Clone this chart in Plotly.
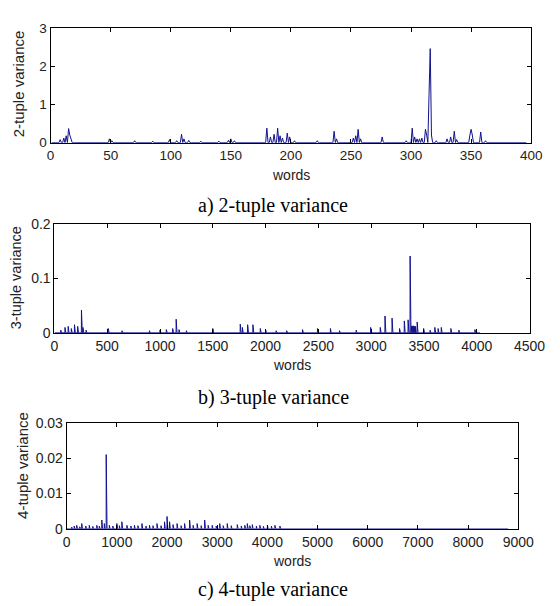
import plotly.graph_objects as go

# ---------------- data ----------------
# a) 2-tuple variance: number of words and spikes (word index, variance)
n_words_2 = 396
spikes2_x = [8, 11, 13, 15, 16, 17, 49, 51, 70, 85, 99, 105, 109, 111, 115, 125, 140, 148, 150, 153,
             180, 183, 186, 189, 191, 193, 197, 199, 203, 222, 236, 238, 252, 254, 256, 258, 276, 296,
             301, 303, 305, 307, 309, 312, 313, 315, 316, 317, 321, 330, 333, 336, 338, 349, 350,
             351, 358, 362]
spikes2_y = [0.08, 0.12, 0.18, 0.37, 0.2, 0.12, 0.1, 0.05, 0.05, 0.04, 0.08, 0.05, 0.22, 0.1, 0.06, 0.04, 0.04, 0.06, 0.1, 0.05,
             0.38, 0.15, 0.22, 0.38, 0.18, 0.12, 0.25, 0.15, 0.05, 0.05, 0.3, 0.1, 0.12, 0.18, 0.35, 0.1, 0.15, 0.05,
             0.38, 0.15, 0.1, 0.1, 0.12, 0.35, 0.2, 1.27, 2.47, 0.2, 0.05, 0.1, 0.15, 0.3, 0.08, 0.2, 0.35,
             0.2, 0.28, 0.05]

# b) 3-tuple variance
n_words_3 = 4030
spikes3_x = [60, 100, 130, 160, 190, 220, 256, 270, 300, 510, 640, 900, 1000, 1060, 1120, 1153, 1180, 1250,
             1500, 1760, 1780, 1830, 1880, 1950, 2000, 2100, 2200, 2350, 2492, 2614, 2700, 2858, 2995, 3086,
             3131, 3198, 3269, 3314, 3350, 3369, 3380, 3385, 3390, 3395, 3400, 3405, 3410, 3415, 3420, 3436,
             3497, 3558, 3603, 3634, 3664, 3755, 3831, 3983]
spikes3_y = [0.005, 0.01, 0.012, 0.008, 0.015, 0.012, 0.042, 0.01, 0.005, 0.008, 0.004, 0.004, 0.005, 0.006, 0.008, 0.025, 0.006, 0.004,
             0.008, 0.016, 0.01, 0.015, 0.015, 0.008, 0.006, 0.004, 0.004, 0.006, 0.008, 0.008, 0.004, 0.005, 0.01, 0.01,
             0.031, 0.027, 0.008, 0.022, 0.024, 0.141, 0.012, 0.013, 0.012, 0.011, 0.013, 0.012, 0.012, 0.011, 0.012, 0.02,
             0.008, 0.005, 0.01, 0.008, 0.01, 0.008, 0.005, 0.006]

# c) 4-tuple variance
n_words_4 = 8800
spikes4_x = [100, 150, 200, 260, 300, 380, 450, 520, 600, 650, 700, 750, 788, 850, 920, 1000, 1050, 1100,
             1200, 1280, 1350, 1420, 1500, 1580, 1650, 1720, 1800, 1880, 1950, 2000, 2050, 2120, 2200,
             2280, 2350, 2450, 2520, 2600, 2680, 2750, 2820, 2900, 2980, 3050, 3120, 3200, 3280, 3400,
             3480, 3550, 3600, 3650, 3700, 3780, 3850, 3920, 4000, 4080, 4150, 4250]
spikes4_y = [0.0005, 0.0008, 0.001, 0.0006, 0.0015, 0.0008, 0.001, 0.0007, 0.001, 0.0008, 0.0025, 0.0015, 0.021, 0.001, 0.0008, 0.0015, 0.0009, 0.002,
             0.001, 0.0008, 0.001, 0.0009, 0.0015, 0.0008, 0.001, 0.0009, 0.0015, 0.0009, 0.002, 0.0035, 0.002, 0.0012, 0.0015,
             0.0009, 0.0015, 0.0025, 0.001, 0.0015, 0.0009, 0.0025, 0.001, 0.001, 0.0008, 0.0015, 0.0009, 0.0015, 0.0009, 0.0012,
             0.0008, 0.001, 0.0015, 0.0009, 0.0012, 0.0008, 0.001, 0.0007, 0.001, 0.0008, 0.001, 0.0008]

x2_ticks = [0, 50, 100, 150, 200, 250, 300, 350, 400]
y2_ticks = [0, 1, 2, 3]
x3_ticks = [0, 500, 1000, 1500, 2000, 2500, 3000, 3500, 4000, 4500]
y3_ticks = [0, 0.1, 0.2]
x4_ticks = [0, 1000, 2000, 3000, 4000, 5000, 6000, 7000, 8000, 9000]
y4_ticks = [0, 0.01, 0.02, 0.03]
y4_ticktext = ["0", "0.01", "0.02", "0.03"]

captions = ["a) 2-tuple variance", "b) 3-tuple variance", "c) 4-tuple variance"]
ytitles = ["2-tuple variance", "3-tuple variance", "4-tuple variance"]
xtitle = "words"


def build(n, sx, sy):
    xs = list(range(1, n + 1))
    ys = [0.0] * n
    for a, b in zip(sx, sy):
        ys[a - 1] = b
    return xs, ys


W, H = 560, 606
LINE = "#12128c"
SANS = "Liberation Sans, Arial, sans-serif"

panels = [
    dict(data=build(n_words_2, spikes2_x, spikes2_y), left=48.3, right=546.7, top=21, bottom=138.3,
         xr=[0, 400], xt=x2_ticks, yr=[0, 3], yt=y2_ticks, ytt=None,
         fs=13.5, yfs=15, ytx=16, yty=78, cap=203),
    dict(data=build(n_words_3, spikes3_x, spikes3_y), left=52.3, right=545, top=221.7, bottom=333.7,
         xr=[0, 4500], xt=x3_ticks, yr=[0, 0.2], yt=y3_ticks, ytt=None,
         fs=14, yfs=14.5, ytx=12, yty=277, cap=400),
    dict(data=build(n_words_4, spikes4_x, spikes4_y), left=65, right=533.3, top=426, bottom=535,
         xr=[0, 9000], xt=x4_ticks, yr=[0, 0.03], yt=y4_ticks, ytt=y4_ticktext,
         fs=14, yfs=15, ytx=19, yty=470, cap=597),
]

fig = go.Figure()
annotations = []

for i, p in enumerate(panels):
    k = "" if i == 0 else str(i + 1)
    xs, ys = p["data"]
    tickfont = dict(family=SANS, size=p["fs"], color="#222")
    fig.add_trace(go.Scatter(x=xs, y=ys, mode="lines", line=dict(color=LINE, width=1),
                             xaxis="x" + k, yaxis="y" + k, showlegend=False, hoverinfo="skip"))
    xa = dict(domain=[p["left"] / W, p["right"] / W], range=p["xr"], tickvals=p["xt"],
              ticks="inside", ticklen=4, tickcolor="black", showline=True, linecolor="black",
              linewidth=1, mirror="ticks", showgrid=False, zeroline=False, tickfont=tickfont,
              anchor="y" + k, fixedrange=True)
    ya = dict(domain=[1 - p["bottom"] / H, 1 - p["top"] / H], range=p["yr"], tickvals=p["yt"],
              ticks="inside", ticklen=4, tickcolor="black", showline=True, linecolor="black",
              linewidth=1, mirror="ticks", showgrid=False, zeroline=False, tickfont=tickfont,
              anchor="x" + k, fixedrange=True)
    if p["ytt"]:
        ya["ticktext"] = p["ytt"]
    fig.update_layout(**{"xaxis" + k: xa, "yaxis" + k: ya})
    annotations.append(dict(text=xtitle, xref="paper", yref="paper",
                            x=(p["left"] + p["right"]) / 2 / W, y=1 - (p["bottom"] + 33) / H,
                            showarrow=False, xanchor="center", yanchor="middle",
                            font=dict(family=SANS, size=14, color="#222")))
    annotations.append(dict(text=ytitles[i], xref="paper", yref="paper",
                            x=p["ytx"] / W, y=1 - p["yty"] / H,
                            showarrow=False, textangle=-90, xanchor="center", yanchor="middle",
                            font=dict(family=SANS, size=p["yfs"], color="#222")))
    annotations.append(dict(text=captions[i], xref="paper", yref="paper",
                            x=279 / W, y=1 - p["cap"] / H, showarrow=False,
                            xanchor="center", yanchor="middle",
                            font=dict(family="Liberation Serif, Times New Roman, serif", size=20, color="black")))

fig.update_layout(width=W, height=H, margin=dict(l=0, r=0, t=0, b=0),
                  paper_bgcolor="white", plot_bgcolor="white", annotations=annotations)

fig.write_html("out.html", config={"displayModeBar": False},
               post_script="document.body.style.margin='0';document.body.style.overflow='hidden';")
